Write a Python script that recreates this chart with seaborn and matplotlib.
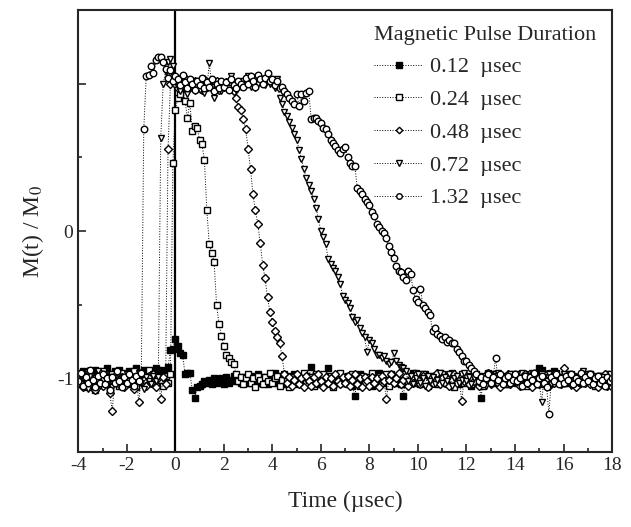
import numpy as np
import pandas as pd
import matplotlib
matplotlib.use("Agg")
import matplotlib.pyplot as plt
import seaborn as sns

sns.set_style("ticks")
plt.rcParams['font.family'] = ['Liberation Serif', 'DejaVu Serif']
plt.rcParams['axes.unicode_minus'] = False
plt.rcParams['mathtext.fontset'] = 'stix'

# time axis in usec, one sample every 0.1 usec (each row below = 1 usec)
time = np.round(np.arange(-4.0, 18.05, 0.1), 1)

# M(t)/M0 for the 0.12 usec pulse
y012 = [
    -0.98, -1.03, -0.95, -1.01, -0.97, -1.04, -0.99, -0.94, -1.02, -0.98,
    -0.96, -1.01, -0.93, -0.99, -0.97, -0.95, -1.00, -0.94, -1.03, -0.97,
    -0.99, -0.95, -1.02, -0.96, -0.93, -1.00, -0.97, -0.94, -1.01, -0.96,
    -0.95, -0.98, -0.93, -0.97, -0.94, -0.96, -0.95, -0.92, -0.81, -0.80,
    -0.73, -0.78, -0.83, -0.84, -0.97, -0.96, -0.96, -1.08, -1.13, -1.06,
    -1.05, -1.04, -1.02, -1.03, -1.01, -1.04, -1.00, -1.03, -1.02, -1.00,
    -1.04, -0.99, -1.03, -1.01, -0.98, -1.02, -1.00, -1.03, -0.99, -1.01,
    -1.03, -0.98, -1.02, -1.00, -0.97, -1.03, -1.01, -0.99, -1.04, -1.02,
    -1.00, -0.96, -1.03, -0.99, -1.01, -1.04, -0.98, -1.02, -1.00, -0.97,
    -1.03, -1.01, -0.99, -1.02, -0.98, -1.00, -0.92, -1.02, -1.04, -0.99,
    -1.00, -1.02, -0.98, -0.93, -1.04, -0.99, -1.01, -1.03, -0.98, -1.01,
    -1.03, -0.98, -1.01, -1.05, -1.12, -1.00, -0.97, -1.02, -0.99, -1.03,
    -1.02, -1.05, -0.99, -1.01, -0.96, -1.03, -1.00, -0.98, -1.02, -0.97,
    -1.03, -1.00, -0.98, -1.04, -1.12, -0.98, -1.02, -1.00, -0.96, -1.02,
    -0.99, -1.04, -1.00, -0.97, -1.02, -1.01, -0.98, -1.03, -1.00, -0.96,
    -1.01, -0.98, -1.03, -1.00, -0.96, -1.02, -0.99, -1.04, -1.00, -0.98,
    -1.02, -1.00, -1.05, -0.99, -1.01, -1.03, -1.13, -0.99, -1.02, -0.97,
    -1.01, -0.97, -1.03, -1.00, -0.98, -1.02, -0.99, -1.04, -1.00, -0.97,
    -1.02, -0.99, -1.04, -1.00, -0.97, -1.01, -0.98, -1.03, -1.00, -0.96,
    -0.93, -0.94, -0.99, -1.01, -0.97, -0.96, -0.95, -1.02, -0.99, -1.03,
    -0.99, -1.03, -1.00, -0.97, -1.02, -0.99, -1.04, -1.00, -0.98, -1.02,
    -1.00, -0.97, -1.03, -0.99, -1.01, -1.04, -0.98, -1.02, -1.00, -0.99,
    -1.01,
]

# 0.24 usec pulse
y024 = [
    -1.01, -0.96, -1.04, -0.99, -1.06, -0.97, -1.02, -1.08, -0.98, -1.03,
    -0.95, -1.02, -1.00, -1.07, -0.97, -1.03, -0.99, -1.05, -0.96, -1.01,
    -1.04, -0.98, -1.02, -0.95, -1.06, -1.00, -0.97, -1.03, -0.99, -0.94,
    -1.02, -0.97, -1.04, -0.99, -1.01, -1.05, -0.98, -1.03, -0.97, 0.46,
    0.82, 0.90, 0.93, 0.97, 0.88, 0.77, 0.87, 0.68, 0.71, 0.70,
    0.62, 0.59, 0.48, 0.14, -0.09, -0.15, -0.21, -0.50, -0.63, -0.71,
    -0.78, -0.84, -0.86, -0.89, -0.90, -0.97, -1.02, -0.99, -1.04, -1.00,
    -0.97, -1.03, -1.00, -1.06, -0.98, -1.01, -1.04, -0.99, -1.02, -0.96,
    -1.03, -1.00, -0.98, -1.05, -1.01, -0.97, -1.02, -1.06, -0.99, -1.01,
    -0.98, -1.04, -1.00, -0.96, -1.03, -1.01, -0.99, -1.05, -0.97, -1.02,
    -1.00, -0.97, -1.03, -1.01, -0.98, -1.06, -1.00, -1.02, -0.96, -1.03,
    -0.99, -1.04, -1.01, -0.97, -1.02, -1.00, -1.05, -0.98, -1.03, -0.99,
    -1.01, -0.96, -1.04, -1.00, -0.98, -1.03, -1.01, -0.97, -1.05, -1.00,
    -0.98, -1.02, -1.00, -1.04, -0.97, -1.01, -1.03, -0.99, -1.02, -0.96,
    -1.03, -1.00, -0.97, -1.02, -1.05, -0.99, -1.01, -0.98, -1.04, -1.00,
    -0.97, -1.03, -1.01, -0.98, -1.02, -1.06, -0.99, -1.01, -0.97, -1.03,
    -1.00, -0.98, -1.04, -1.01, -0.97, -1.02, -0.99, -1.05, -1.00, -0.96,
    -1.02, -1.00, -0.97, -1.03, -1.01, -0.98, -1.04, -0.99, -1.02, -1.00,
    -0.98, -1.03, -1.00, -0.96, -1.02, -1.05, -0.99, -1.01, -0.97, -1.03,
    -1.00, -0.97, -1.04, -1.01, -0.98, -1.03, -1.00, -0.96, -1.02, -0.99,
    -1.03, -1.00, -0.97, -1.02, -0.99, -1.04, -1.01, -0.98, -1.03, -1.00,
    -0.97, -1.02, -0.99, -1.05, -1.00, -0.98, -1.03, -1.01, -0.97, -1.02,
    -1.00,
]

# 0.48 usec pulse
y048 = [
    -1.03, -0.97, -1.06, -1.00, -0.95, -1.04, -0.99, -1.08, -1.02, -0.96,
    -1.05, -0.99, -1.03, -1.10, -1.22, -1.01, -0.97, -1.04, -0.99, -1.06,
    -0.98, -1.03, -1.00, -1.07, -1.02, -1.16, -0.96, -1.01, -1.05, -0.98,
    -1.03, -0.97, -1.06, -1.00, -1.14, -0.99, -1.04, 0.56, 1.00, 1.05,
    1.00, 0.97, 1.03, 0.99, 1.04, 0.96, 1.01, 0.98, 1.02, 0.97,
    1.00, 0.96, 1.03, 0.98, 1.01, 0.97, 0.99, 1.02, 0.96, 1.00,
    0.98, 1.01, 0.97, 0.99, 0.95, 0.90, 0.84, 0.82, 0.76, 0.69,
    0.56, 0.42, 0.25, 0.14, 0.05, -0.08, -0.23, -0.32, -0.45, -0.55,
    -0.62, -0.68, -0.72, -0.76, -0.85, -0.97, -1.03, -0.99, -1.05, -1.01,
    -0.97, -1.04, -1.00, -1.06, -0.98, -1.02, -1.05, -0.99, -1.03, -0.97,
    -1.02, -1.06, -0.99, -1.03, -1.00, -1.05, -0.97, -1.02, -1.04, -0.99,
    -1.03, -0.98, -1.05, -1.01, -0.97, -1.04, -1.00, -1.06, -0.99, -1.02,
    -1.05, -0.99, -1.03, -1.00, -1.06, -0.98, -1.02, -1.14, -1.01, -0.97,
    -1.03, -1.00, -0.96, -1.04, -1.01, -0.98, -1.05, -1.00, -1.03, -0.97,
    -1.01, -1.04, -0.98, -1.02, -1.06, -0.99, -1.03, -1.00, -0.96, -1.04,
    -1.00, -1.03, -0.98, -1.05, -1.01, -0.97, -1.03, -1.00, -1.15, -1.02,
    -0.98, -1.04, -1.00, -1.02, -0.97, -1.05, -0.99, -1.03, -1.01, -0.96,
    -1.04, -1.00, -0.98, -1.03, -1.06, -0.99, -1.02, -0.97, -1.04, -1.00,
    -1.02, -0.98, -1.05, -1.00, -0.97, -1.03, -1.01, -1.06, -0.99, -1.02,
    -1.04, -0.99, -1.02, -0.97, -1.05, -1.00, -1.03, -0.98, -1.01, -1.04,
    -0.93, -1.01, -0.98, -1.04, -1.00, -1.06, -0.99, -1.02, -0.97, -1.03,
    -1.00, -1.04, -0.98, -1.02, -1.06, -0.99, -1.03, -0.97, -1.05, -1.01,
    -1.06,
]

# 0.72 usec pulse
y072 = [
    -0.99, -1.04, -0.97, -1.02, -1.07, -0.98, -1.03, -1.00, -0.95, -1.05,
    -1.01, -0.97, -1.04, -0.99, -1.06, -1.02, -0.96, -1.03, -1.00, -1.05,
    -0.97, -1.02, -0.99, -1.04, -1.00, -0.96, -1.03, -1.07, -0.99, -1.02,
    -1.04, -0.98, -1.02, -0.99, 0.63, 1.00, 1.08, 1.15, 1.17, 1.12,
    1.02, 0.98, 0.95, 0.99, 0.96, 0.93, 0.97, 1.00, 0.95, 0.98,
    0.96, 0.99, 0.94, 0.97, 1.14, 0.98, 0.90, 0.96, 0.99, 0.95,
    0.98, 1.00, 0.97, 1.05, 0.99, 0.96, 1.01, 0.98, 1.02, 0.99,
    1.05, 0.98, 1.01, 0.97, 1.00, 1.03, 1.03, 0.99, 1.02, 1.00,
    1.01, 0.97, 1.03, 0.90, 0.86, 0.81, 0.78, 0.74, 0.70, 0.66,
    0.62, 0.55, 0.49, 0.42, 0.36, 0.31, 0.27, 0.22, 0.16, 0.08,
    0.00, -0.04, -0.09, -0.19, -0.22, -0.25, -0.27, -0.31, -0.36, -0.44,
    -0.47, -0.49, -0.52, -0.58, -0.62, -0.60, -0.66, -0.69, -0.72, -0.82,
    -0.74, -0.76, -0.80, -0.84, -0.84, -0.86, -0.85, -0.88, -0.90, -0.89,
    -0.83, -0.88, -0.91, -0.92, -0.93, -0.95, -1.02, -0.98, -1.04, -1.00,
    -0.97, -1.03, -1.00, -1.05, -0.98, -1.02, -0.99, -1.04, -1.01, -0.96,
    -1.03, -0.99, -1.02, -0.97, -1.05, -1.00, -0.98, -1.03, -1.01, -0.96,
    -1.02, -0.99, -1.04, -1.00, -0.97, -1.03, -1.01, -0.98, -1.05, -1.00,
    -0.98, -1.03, -1.00, -0.96, -1.02, -1.04, -0.99, -1.01, -0.97, -1.03,
    -1.00, -0.97, -1.03, -1.01, -0.98, -1.04, -1.00, -0.96, -1.02, -0.99,
    -1.03, -1.16, -0.99, -1.02, -0.97, -1.04, -1.00, -0.98, -1.03, -1.01,
    -0.97, -1.02, -1.00, -1.05, -0.98, -1.01, -1.03, -0.99, -0.95, -1.02,
    -1.00, -0.97, -1.03, -1.01, -0.98, -1.04, -0.99, -1.02, -1.00, -0.97,
    -1.03,
]

# 1.32 usec pulse
y132 = [
    -1.02, -0.96, -1.05, -0.99, -1.03, -0.94, -1.01, -1.06, -0.98, -1.03,
    -0.97, -1.04, -1.00, -1.08, -0.99, -1.03, -0.95, -1.02, -1.06, -0.99,
    -1.03, -0.97, -1.01, -1.05, -0.98, -1.02, -0.96, 0.69, 1.05, 1.06,
    1.12, 1.07, 1.16, 1.18, 1.18, 1.15, 1.10, 1.04, 1.09, 1.02,
    1.05, 1.03, 0.99, 1.06, 1.01, 0.97, 1.03, 1.00, 0.96, 1.02,
    0.99, 1.04, 0.97, 1.01, 0.98, 1.03, 0.95, 1.00, 0.97, 1.02,
    0.98, 1.01, 0.96, 1.03, 0.99, 0.97, 1.02, 1.00, 0.98, 1.04,
    1.00, 1.05, 1.02, 0.98, 1.06, 1.03, 1.00, 1.04, 1.07, 1.02,
    1.03, 0.99, 1.02, 0.97, 0.98, 0.95, 0.93, 0.90, 0.88, 0.86,
    0.93, 0.85, 0.93, 0.88, 0.94, 0.95, 0.76, 0.77, 0.77, 0.75,
    0.73, 0.70, 0.69, 0.66, 0.62, 0.60, 0.58, 0.55, 0.53, 0.56,
    0.57, 0.50, 0.46, 0.44, 0.44, 0.29, 0.27, 0.25, 0.22, 0.20,
    0.18, 0.13, 0.10, 0.05, 0.03, 0.00, -0.01, -0.05, -0.10, -0.14,
    -0.18, -0.24, -0.27, -0.28, -0.31, -0.33, -0.27, -0.29, -0.40, -0.46,
    -0.48, -0.39, -0.50, -0.52, -0.55, -0.57, -0.68, -0.66, -0.70, -0.71,
    -0.73, -0.72, -0.75, -0.74, -0.76, -0.76, -0.80, -0.82, -0.85, -0.88,
    -0.88, -0.91, -0.93, -0.95, -0.97, -1.02, -0.99, -1.04, -1.00, -0.97,
    -1.03, -0.99, -0.86, -1.01, -0.97, -1.04, -1.00, -0.98, -1.03, -1.01,
    -0.97, -1.02, -1.00, -1.05, -0.98, -1.03, -0.99, -1.01, -0.96, -1.04,
    -1.00, -0.98, -1.03, -1.06, -1.24, -0.99, -1.02, -0.97, -1.04, -1.00,
    -1.03, -0.98, -1.01, -0.97, -1.04, -1.00, -1.02, -0.96, -1.03, -0.99,
    -1.02, -0.97, -1.04, -1.00, -0.98, -1.03, -1.01, -1.05, -0.99, -1.02,
    -1.00,
]

durations = ['0.12', '0.24', '0.48', '0.72', '1.32']
series = [y012, y024, y048, y072, y132]
markers = ['s', 's', 'D', 'v', 'o']
msizes = [4.5, 4.5, 3.9, 4.9, 4.7]
faces = ['black', 'white', 'white', 'white', 'white']

for s in series:
    assert len(s) == len(time), len(s)

df = pd.DataFrame({
    'time': np.tile(time, len(series)),
    'M': np.concatenate(series),
    'duration': np.repeat(durations, len(time)),
})

fig = plt.figure(figsize=(6.31, 5.27), dpi=100)
ax = fig.add_axes([0.124, 0.142, 0.846, 0.839])

for d, m, ms, fc in zip(durations, markers, msizes, faces):
    sub = df[df['duration'] == d]
    sns.lineplot(data=sub, x='time', y='M', ax=ax, color='black',
                 linestyle=':', linewidth=0.7, marker=m, markersize=ms,
                 markerfacecolor=fc, markeredgecolor='black',
                 markeredgewidth=1.0, label=d + '  µsec', errorbar=None)

ax.axvline(0, color='black', linewidth=1.6, zorder=1)

ax.set_xlim(-4, 18)
ax.set_ylim(-1.5, 1.5)
ax.set_xticks(np.arange(-4, 19, 2))
ax.set_xticks(np.arange(-3, 18, 2), minor=True)
ax.set_yticks([-1, 0, 1])
ax.set_yticklabels(['-1', '0', ''])
ax.set_yticks([-0.5, 0.5], minor=True)
ax.tick_params(which='both', direction='in', labelsize=14, width=1.2)
ax.tick_params(which='major', length=6)
ax.tick_params(which='minor', length=3)
for sp in ax.spines.values():
    sp.set_linewidth(1.5)
    sp.set_visible(True)

ax.set_xlabel('Time (µsec)', fontsize=17, labelpad=12)
ax.set_ylabel('M(t) / M$_0$', fontsize=17, labelpad=8)

leg = ax.legend(title='Magnetic Pulse Duration', loc='upper right',
                frameon=False, fontsize=16, title_fontsize=16,
                handlelength=2.2, handletextpad=0.3, labelspacing=0.55,
                alignment='left', borderaxespad=0.3, markerscale=0.85)

fig.savefig('out.png', dpi=100)
